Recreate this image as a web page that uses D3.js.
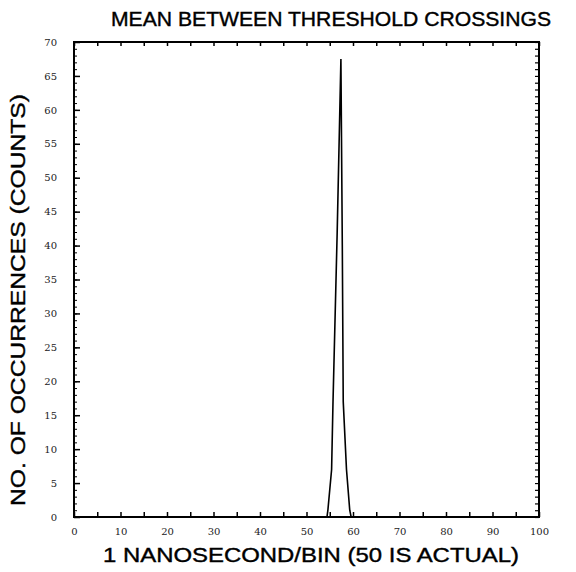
<!DOCTYPE html>
<html>
<head>
<meta charset="utf-8">
<script src="https://cdn.jsdelivr.net/npm/d3@7"></script>
<style>
  body { margin: 0; background: #fff; }
  svg { display: block; }
</style>
</head>
<body>
<script>
// histogram of mean time between threshold crossings
var binValues = [0, 54.4, 54.6, 55.4, 55.7, 56.6, 57.4, 57.7, 57.9, 58.6, 59.3, 59.6, 100];
var countValues = [0, 0, 1, 7, 17, 42, 67.5, 40, 17, 7, 1, 0, 0];

var xTickLabels = [0, 10, 20, 30, 40, 50, 60, 70, 80, 90, 100];
var yTickLabels = [0, 5, 10, 15, 20, 25, 30, 35, 40, 45, 50, 55, 60, 65, 70];

var width = 576;
var height = 572;
var paddingLeft = 74;
var paddingRight = 37;
var paddingTop = 42;
var paddingBottom = 55;

var svg = d3.select("body")
  .append("svg")
  .attr("width", width)
  .attr("height", height);

var xScale = d3.scaleLinear()
  .domain([0, 100])
  .range([paddingLeft, width - paddingRight]);

var yScale = d3.scaleLinear()
  .domain([0, 70])
  .range([height - paddingBottom, paddingTop]);

// frame
svg.append("rect")
  .attr("x", xScale(0))
  .attr("y", yScale(70))
  .attr("width", xScale(100) - xScale(0))
  .attr("height", yScale(0) - yScale(70))
  .attr("fill", "none")
  .attr("stroke", "#000")
  .attr("stroke-width", 2);

// bottom axis, ticks pointing in
var xAxis = d3.axisBottom(xScale)
  .tickValues(d3.range(0, 101, 5))
  .tickSize(-5)
  .tickFormat(d => xTickLabels.indexOf(d) >= 0 ? d : "");

svg.append("g")
  .attr("id", "x-axis")
  .attr("transform", "translate(0," + yScale(0) + ")")
  .call(xAxis)
  .call(g => g.select(".domain").remove())
  .call(g => g.selectAll(".tick line").attr("stroke-width", 1.5))
  .call(g => g.selectAll(".tick text")
    .attr("y", 11)
    .attr("fill", "#222")
    .attr("font-family", "DejaVu Serif, serif")
    .attr("font-size", 10));

// top axis
var xTopAxis = d3.axisTop(xScale)
  .tickValues(d3.range(0, 101, 5))
  .tickSize(-4)
  .tickFormat("");

svg.append("g")
  .attr("transform", "translate(0," + yScale(70) + ")")
  .call(xTopAxis)
  .call(g => g.select(".domain").remove())
  .call(g => g.selectAll(".tick line").attr("stroke-width", 1.5));

// left axis, labels every 5, minor ticks every 1
var yAxis = d3.axisLeft(yScale)
  .tickValues(yTickLabels)
  .tickSize(-6)
  .tickPadding(17);

svg.append("g")
  .attr("id", "y-axis")
  .attr("transform", "translate(" + xScale(0) + ",0)")
  .call(yAxis)
  .call(g => g.select(".domain").remove())
  .call(g => g.selectAll(".tick line").attr("stroke-width", 1.5))
  .call(g => g.selectAll(".tick text")
    .attr("fill", "#222")
    .attr("font-family", "DejaVu Serif, serif")
    .attr("font-size", 10));

svg.append("g")
  .attr("transform", "translate(" + xScale(0) + ",0)")
  .call(d3.axisLeft(yScale).tickValues(d3.range(0, 71, 1)).tickSize(-3).tickFormat(""))
  .call(g => g.select(".domain").remove());

// right axis minor ticks
svg.append("g")
  .attr("transform", "translate(" + xScale(100) + ",0)")
  .call(d3.axisRight(yScale).tickValues(d3.range(0, 71, 1)).tickSize(-4).tickFormat(""))
  .call(g => g.select(".domain").remove())
  .call(g => g.selectAll(".tick line").attr("stroke-width", 1.2));

// the histogram trace
var line = d3.line()
  .x((d, i) => xScale(binValues[i]))
  .y(d => yScale(d));

svg.append("path")
  .datum(countValues)
  .attr("d", line)
  .attr("fill", "none")
  .attr("stroke", "#000")
  .attr("stroke-width", 1.6);

// titles
var labelFont = "Liberation Sans, Arial, sans-serif";

svg.append("text")
  .attr("x", 331)
  .attr("y", 26)
  .attr("text-anchor", "middle")
  .attr("font-family", labelFont)
  .attr("font-size", 20)
  .attr("stroke", "#000")
  .attr("stroke-width", 0.4)
  .attr("textLength", 440)
  .attr("lengthAdjust", "spacingAndGlyphs")
  .text("MEAN BETWEEN THRESHOLD CROSSINGS");

svg.append("text")
  .attr("x", 311)
  .attr("y", 562)
  .attr("text-anchor", "middle")
  .attr("font-family", labelFont)
  .attr("font-size", 21)
  .attr("stroke", "#000")
  .attr("stroke-width", 0.4)
  .attr("textLength", 416)
  .attr("lengthAdjust", "spacingAndGlyphs")
  .text("1 NANOSECOND/BIN (50 IS ACTUAL)");

svg.append("text")
  .attr("transform", "translate(25,300) rotate(-90)")
  .attr("text-anchor", "middle")
  .attr("font-family", labelFont)
  .attr("font-size", 21)
  .attr("stroke", "#000")
  .attr("stroke-width", 0.4)
  .attr("textLength", 412)
  .attr("lengthAdjust", "spacingAndGlyphs")
  .text("NO. OF OCCURRENCES (COUNTS)");
</script>
</body>
</html>
